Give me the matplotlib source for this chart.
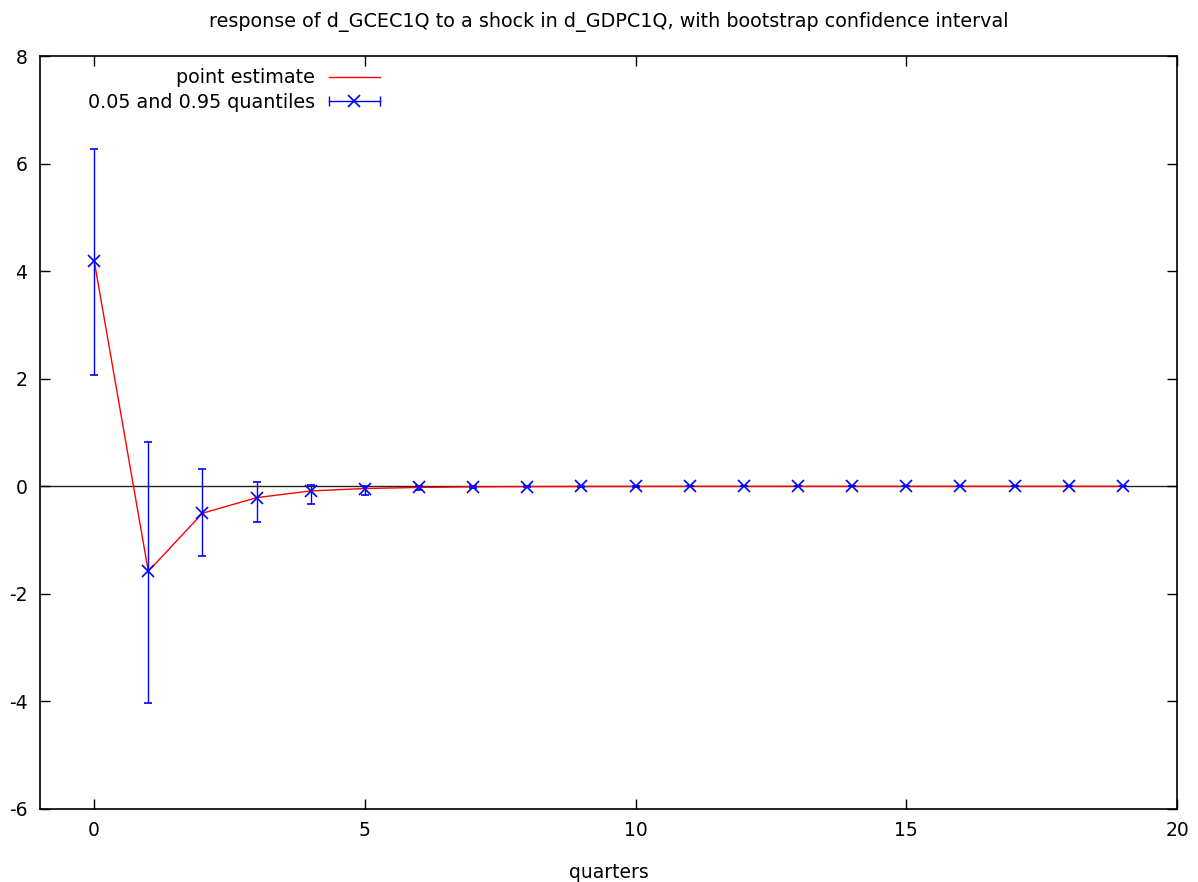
import numpy as np
import matplotlib
matplotlib.use("Agg")
import matplotlib.pyplot as plt
from matplotlib.lines import Line2D
from matplotlib.legend_handler import HandlerBase

plt.rcParams['font.family'] = ['DejaVu Sans']
plt.rcParams['axes.unicode_minus'] = False

quarters = list(range(20))
point = [4.20, -1.58, -0.50, -0.21, -0.085, -0.04, -0.02, -0.008, -0.004, -0.002,
         -0.001, 0.0, 0.0, 0.0, 0.0, 0.0, 0.0, 0.0, 0.0, 0.0]
lower = [2.08, -4.03, -1.30, -0.67, -0.32, -0.16, -0.07, -0.03, -0.015, -0.008,
         -0.004, -0.002, -0.001, 0.0, 0.0, 0.0, 0.0, 0.0, 0.0, 0.0]
upper = [6.28, 0.83, 0.32, 0.09, 0.03, 0.0, 0.01, 0.004, 0.002, 0.001,
         0.0, 0.0, 0.0, 0.0, 0.0, 0.0, 0.0, 0.0, 0.0, 0.0]

x = np.array(quarters)
y = np.array(point)
lo = np.array(lower)
hi = np.array(upper)


class HErrHandler(HandlerBase):
    # gnuplot-style key sample: horizontal bar with caps and a marker in the middle
    def create_artists(self, legend, orig, xd, yd, w, h, fs, trans):
        yc = yd + h / 2
        bar = Line2D([xd, xd + w], [yc, yc], color='blue', lw=1.0)
        caps = Line2D([xd, xd + w], [yc, yc], ls='none', marker='|', ms=7, mew=1.0, color='blue')
        mk = Line2D([xd + w / 2], [yc], ls='none', marker='x', ms=9, mew=1.2, color='blue')
        arts = [bar, caps, mk]
        for a in arts:
            a.set_transform(trans)
        return arts


fig = plt.figure(figsize=(11.98, 8.82), dpi=100)
ax = fig.add_axes([0.0334, 0.083, 0.9491, 0.853])

ax.axhline(0, color='#222222', lw=1.0, zorder=1)
line, = ax.plot(x, y, color='red', lw=1.0, label='point estimate', zorder=2)
eb = ax.errorbar(x, y, yerr=[y - lo, hi - y], fmt='x', color='blue', ms=9, mew=1.2,
                 elinewidth=1.0, capsize=3, capthick=1.0, zorder=3)

ax.set_xlim(-1, 20)
ax.set_ylim(-6, 8)
ax.set_xticks([0, 5, 10, 15, 20])
ax.set_yticks([-6, -4, -2, 0, 2, 4, 6, 8])
ax.tick_params(direction='in', length=7, width=1, top=True, right=True, labelsize=13.5, pad=9)
for s in ax.spines.values():
    s.set_linewidth(1.2)

ax.set_xlabel('quarters', fontsize=13.5, labelpad=16)
ax.set_title('response of d_GCEC1Q to a shock in d_GDPC1Q, with bootstrap confidence interval',
             fontsize=13.8, pad=21.5)

proxy = Line2D([], [], color='blue')
ax.legend([line, proxy], ['point estimate', '0.05 and 0.95 quantiles'],
          handler_map={proxy: HErrHandler()},
          loc='upper left', bbox_to_anchor=(0.027, 1.007), frameon=False, markerfirst=False,
          fontsize=13.8, handlelength=2.7, handletextpad=0.7, labelspacing=0.3)

fig.savefig('out.png', dpi=100)
